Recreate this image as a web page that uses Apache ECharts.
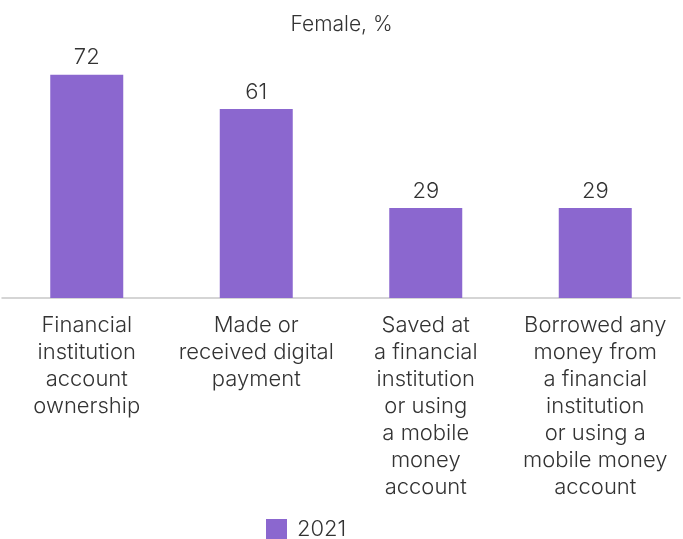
<!DOCTYPE html>
<html>
<head>
<meta charset="utf-8">
<script src="https://cdn.jsdelivr.net/npm/echarts@6/dist/echarts.min.js"></script>
<style>
html, body { margin: 0; padding: 0; background: #fff; }
#chart { width: 683px; height: 539px; }
</style>
</head>
<body>
<div id="chart"></div>
<script>
// categories, as wrapped in the source chart
var categories = [
	'Financial\ninstitution\naccount\nownership',
	'Made or\nreceived digital\npayment',
	'Saved at\na financial\ninstitution\nor using\na mobile\nmoney\naccount',
	'Borrowed any\nmoney from\na financial\ninstitution\nor using a\nmobile money\naccount'
];
var seriesName = '2021';
var values = [72, 61, 29, 29];

var textColor = '#333333';
var fontFamily = 'Inter, Roboto, sans-serif';

var chart = echarts.init(document.getElementById('chart'));
var option = {
	animation: false,
	title: {
		text: 'Female, %',
		left: 'center',
		top: 9,
		textStyle: { color: textColor, fontSize: 21, fontWeight: 300, fontFamily: fontFamily }
	},
	legend: {
		data: [seriesName],
		top: 513,
		left: 261,
		icon: 'rect',
		itemWidth: 21,
		itemHeight: 20,
		textStyle: {
			color: textColor, fontSize: 22, fontWeight: 300, fontFamily: fontFamily,
			padding: [0, 0, 0, 5]
		}
	},
	grid: {
		left: 2,
		right: 3,
		top: 50,
		bottom: 241,
		containLabel: false
	},
	xAxis: {
		type: 'category',
		data: categories,
		axisLine: { show: true, lineStyle: { color: '#c8c8c8', width: 1.5 } },
		axisTick: { show: false },
		axisLabel: {
			interval: 0,
			color: textColor,
			fontSize: 22,
			fontWeight: 300,
			fontFamily: fontFamily,
			lineHeight: 27,
			margin: 14,
			align: 'center'
		}
	},
	yAxis: {
		type: 'value',
		min: 0,
		max: 80,
		show: false,
		splitLine: { show: false }
	},
	series: [
		{
			name: seriesName,
			type: 'bar',
			data: values,
			barWidth: 73,
			itemStyle: { color: '#8b67cf' },
			label: {
				show: true,
				position: 'top',
				distance: 6,
				color: textColor,
				fontSize: 22,
				fontWeight: 300,
				fontFamily: fontFamily
			}
		}
	]
};
chart.setOption(option);
</script>
</body>
</html>
